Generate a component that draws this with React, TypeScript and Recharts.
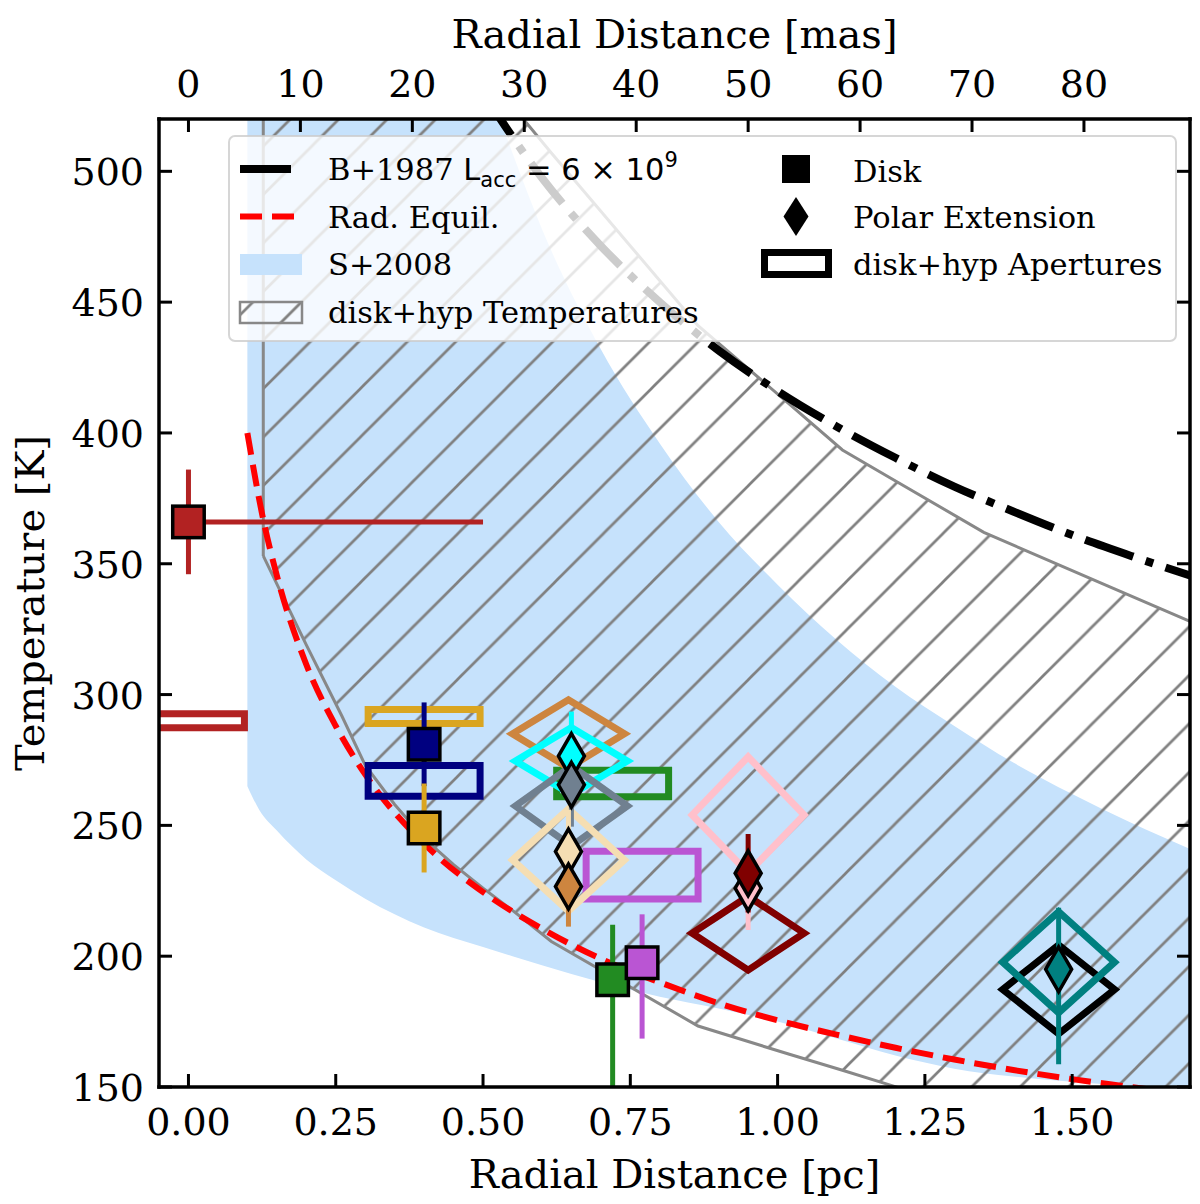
import React from 'react';
import { ComposedChart, XAxis, YAxis, Area, Line, Scatter, ErrorBar, Legend } from 'recharts';

const SERIF = '"DejaVu Serif", serif';
const SANS = '"DejaVu Sans", sans-serif';

// ---------- axes ----------
const PC_DOMAIN = [-0.05, 1.7];
const T_DOMAIN = [150, 520];
const PC_TICKS = [0, 0.25, 0.5, 0.75, 1.0, 1.25, 1.5];
const T_TICKS = [150, 200, 250, 300, 350, 400, 450, 500];
const MAS_TICKS = [0, 10, 20, 30, 40, 50, 60, 70, 80];
const PC_PER_MAS = 0.019;

// ---------- S+2008 band ----------
const S08_X = [0.10, 0.12, 0.15, 0.2, 0.25, 0.3, 0.4, 0.5, 0.55, 0.6, 0.7, 0.8, 0.9, 1.0, 1.1, 1.2, 1.3, 1.4, 1.5, 1.6, 1.7];
const S08_LO = [265, 256, 248, 237, 229, 222, 211, 203.5, 200, 196.5, 190, 184.5, 180, 175, 168.5, 162, 157, 154, 152, 150.3, 148.5];
const S08_HI = [1555, 1380, 1190, 985, 850, 755, 625, 539, 507, 478, 432, 396, 366, 342, 321, 303, 288, 274, 262, 251, 241];

// ---------- disk+hyp temperature range (hatched) ----------
const HATCH_X = [0.127, 0.2, 0.26, 0.3, 0.35, 0.4, 0.45, 0.5, 0.55, 0.616, 0.865, 1.02, 1.11, 1.19, 1.35, 1.56, 1.7];
const HATCH_LO = [353, 319, 292, 273, 258, 245, 235, 226, 217.5, 205.6, 173.3, 162.5, 156.4, 150.8, 139.5, 125, 115];
const HATCH_HI = [700, 680, 660, 645, 625, 600, 560, 538, 525, 507, 441, 411, 393.5, 383, 362, 341.5, 328];

// ---------- radiative equilibrium ----------
const RE_X = [0.1, 0.125, 0.15, 0.2, 0.25, 0.3, 0.4, 0.5, 0.6, 0.7, 0.8, 0.9, 1.0, 1.1, 1.2, 1.3, 1.4, 1.5, 1.6, 1.7];
const RE_T = [400, 369, 345.5, 311.5, 288, 269.5, 243, 224.5, 210.5, 199, 190, 182, 175.5, 170, 165, 160.5, 156.5, 153, 150, 147];

// ---------- B+1987 ----------
const B87_X = [0.5, 0.6, 0.7, 0.8, 0.9, 1.0, 1.1, 1.2, 1.3, 1.4, 1.5, 1.6, 1.7];
const B87_T = [530, 497.5, 471.5, 450, 431.5, 416, 402.5, 390.5, 379.5, 370, 361, 353, 345.5];

// ---------- disk+hyp apertures: rectangles ----------
const RECT_COLOR = ['#b22222', '#daa520', '#000080', '#228b22', '#ba55d3'];
const RECT_X = [0.0, 0.40, 0.40, 0.72, 0.77];
const RECT_T = [290, 291.6, 267, 266, 231];
const RECT_HALF_T = [2.7, 2.7, 5.9, 5.1, 9.1];
const AP_HALF_X = 0.095;

// ---------- disk+hyp apertures: diamonds ----------
const DM_COLOR = ['#cd853f', '#00ffff', '#708090', '#f5deb3', '#ffc0cb', '#800000', '#000000', '#008080'];
const DM_X = [0.645, 0.65, 0.65, 0.645, 0.95, 0.95, 1.477, 1.477];
const DM_T = [285, 274.6, 257.4, 236.8, 254, 208.8, 187.3, 197.7];
const DM_HALF_T = [13, 12.8, 15.3, 19.5, 22.2, 14.1, 17, 19.3];

// ---------- Disk points (squares) ----------
const SQ_COLOR = ['#b22222', '#000080', '#daa520', '#228b22', '#ba55d3'];
const SQ_X = [0.0, 0.40, 0.40, 0.72, 0.77];
const SQ_T = [366, 281, 249, 191, 197.5];
const SQ_ERR_LO = [20, 16, 17, 41, 29];
const SQ_ERR_HI = [20, 16, 17, 21, 18.5];
const SQ_XERR_HI = [0.5, 0, 0, 0, 0];

// ---------- Polar extension points (diamonds) ----------
const PD_COLOR = ['#00ffff', '#708090', '#f5deb3', '#cd853f', '#ffc0cb', '#800000', '#008080'];
const PD_X = [0.65, 0.65, 0.645, 0.645, 0.95, 0.95, 1.477];
const PD_T = [276.5, 265.5, 240, 226.6, 226, 231.7, 195];
const PD_ERR_LO = [17, 16, 16, 15.3, 16, 15, 36.3];
const PD_ERR_HI = [17, 16, 16, 15.3, 16, 15, 23.5];

// ---------- derived tables ----------
const s08Data = S08_X.map((x, i) => ({ x, range: [S08_LO[i], S08_HI[i]] }));
const hatchData = HATCH_X.map((x, i) => ({ x, range: [HATCH_LO[i], HATCH_HI[i]] }));
const hatchEdge = [
  { x: HATCH_X[0], T: HATCH_LO[0] },
  { x: HATCH_X[0], T: HATCH_HI[0] },
];
const reData = RE_X.map((x, i) => ({ x, T: RE_T[i] }));
const b87Data = B87_X.map((x, i) => ({ x, T: B87_T[i] }));
// anchor rows for the angular-scale (mas) axis, placed on the bottom edge
const masRows = MAS_TICKS.map((m) => ({ mas: m, T: T_DOMAIN[0] }));

const rectPath = (cx: number, cT: number, hx: number, hT: number) => [
  { x: cx, T: cT + hT },
  { x: cx + hx, T: cT + hT },
  { x: cx + hx, T: cT - hT },
  { x: cx - hx, T: cT - hT },
  { x: cx - hx, T: cT + hT },
  { x: cx, T: cT + hT },
];
const diamondPath = (cx: number, cT: number, hx: number, hT: number) => [
  { x: cx - hx / 2, T: cT + hT / 2 },
  { x: cx, T: cT + hT },
  { x: cx + hx, T: cT },
  { x: cx, T: cT - hT },
  { x: cx - hx, T: cT },
  { x: cx - hx / 2, T: cT + hT / 2 },
];
const rectShapes = RECT_X.map((x, i) => ({ color: RECT_COLOR[i], data: rectPath(x, RECT_T[i], AP_HALF_X, RECT_HALF_T[i]) }));
const diamondShapes = DM_X.map((x, i) => ({ color: DM_COLOR[i], data: diamondPath(x, DM_T[i], AP_HALF_X, DM_HALF_T[i]) }));

const squarePoints = SQ_X.map((x, i) => ({
  color: SQ_COLOR[i],
  data: [{ x, T: SQ_T[i], ey: [SQ_ERR_LO[i], SQ_ERR_HI[i]], ex: [0, SQ_XERR_HI[i]] }],
  hasX: SQ_XERR_HI[i] > 0,
}));
const polarPoints = PD_X.map((x, i) => ({
  color: PD_COLOR[i],
  data: [{ x, T: PD_T[i], ey: [PD_ERR_LO[i], PD_ERR_HI[i]] }],
}));

// ---------- ticks ----------
const TICK_LEN = 13;
const TICK_FS = 38;

const BottomTick = (props: any) => {
  const { x, y, payload } = props;
  return (
    <g>
      <line x1={x} x2={x} y1={y} y2={y - TICK_LEN} stroke="#000" strokeWidth={3} />
      <text x={x} y={y + 48} textAnchor="middle" fontFamily={SERIF} fontSize={TICK_FS} fill="#000">
        {Number(payload.value).toFixed(2)}
      </text>
    </g>
  );
};
const TopTick = (props: any) => {
  const { x, y, payload } = props;
  return (
    <g>
      <line x1={x} x2={x} y1={y} y2={y + TICK_LEN} stroke="#000" strokeWidth={3} />
      <text x={x} y={y - 22} textAnchor="middle" fontFamily={SERIF} fontSize={TICK_FS} fill="#000">
        {String(payload.value)}
      </text>
    </g>
  );
};
const LeftTick = (props: any) => {
  const { x, y, payload } = props;
  return (
    <g>
      <line x1={x} x2={x + TICK_LEN} y1={y} y2={y} stroke="#000" strokeWidth={3} />
      <text x={x - 15} y={y + 14} textAnchor="end" fontFamily={SERIF} fontSize={TICK_FS} fill="#000">
        {String(payload.value)}
      </text>
    </g>
  );
};
const RightTick = (props: any) => {
  const { x, y } = props;
  return <line x1={x} x2={x - TICK_LEN} y1={y} y2={y} stroke="#000" strokeWidth={3} />;
};

// ---------- axis titles ----------
const BottomTitle = (props: any) => {
  const vb = props.viewBox;
  return (
    <text x={vb.x + vb.width / 2} y={vb.y + 101} textAnchor="middle" fontFamily={SERIF} fontSize={40} fill="#000">
      Radial Distance [pc]
    </text>
  );
};
const TopTitle = (props: any) => {
  const vb = props.viewBox;
  return (
    <text x={vb.x + vb.width / 2} y={vb.y + 48} textAnchor="middle" fontFamily={SERIF} fontSize={40} fill="#000">
      Radial Distance [mas]
    </text>
  );
};
const LeftTitle = (props: any) => {
  const vb = props.viewBox;
  const cx = vb.x + 44;
  const cy = vb.y + vb.height / 2;
  return (
    <text x={cx} y={cy} transform={`rotate(-90 ${cx} ${cy})`} textAnchor="middle" fontFamily={SERIF} fontSize={40} fill="#000">
      Temperature [K]
    </text>
  );
};

// ---------- markers ----------
const squareShape = (color: string) => (props: any) => {
  const { cx, cy } = props;
  const s = 31.5;
  return <rect x={cx - s / 2} y={cy - s / 2} width={s} height={s} fill={color} stroke="#000" strokeWidth={3.5} />;
};
const diamondShape = (color: string) => (props: any) => {
  const { cx, cy } = props;
  const a = 13;
  const b = 22.5;
  return (
    <polygon
      points={`${cx},${cy - b} ${cx + a},${cy} ${cx},${cy + b} ${cx - a},${cy}`}
      fill={color}
      stroke="#000"
      strokeWidth={3.5}
      strokeLinejoin="miter"
    />
  );
};

// ---------- hatch ----------
const HATCH_P = 48.5;
const HATCH_PHASE = 21.5;
const HatchPattern = ({ id, offX, offY }: { id: string; offX: number; offY: number }) => {
  const P = HATCH_P;
  const shift = (((HATCH_PHASE - offX - offY) % P) + P) % P;
  return (
    <pattern id={id} patternUnits="userSpaceOnUse" width={P} height={P} patternTransform={`translate(${shift} 0)`}>
      <path
        d={`M0,${P} L${P},0 M-2,2 L2,-2 M${P - 2},${P + 2} L${P + 2},${P - 2}`}
        stroke="#808080"
        strokeWidth={2.7}
        fill="none"
      />
    </pattern>
  );
};

// ---------- legend ----------
const LEG_X = 228;
const LEG_Y = 135;
const LEG_W = 949;
const LEG_H = 207;
const LEG_FS = 30.5;

const LegendContent = () => (
  <svg width={LEG_W} height={LEG_H} style={{ display: 'block' }}>
    <defs>
      <HatchPattern id="hatchLeg" offX={LEG_X} offY={LEG_Y} />
    </defs>
    <rect x={1} y={1} width={LEG_W - 2} height={LEG_H - 2} rx={6} fill="#ffffff" fillOpacity={0.8} stroke="#cccccc" strokeOpacity={0.8} strokeWidth={2} />
    {/* left column */}
    <line x1={12} x2={74} y1={34} y2={34} stroke="#000" strokeWidth={8} strokeDasharray="51 13 8 13" />
    <text x={100} y={45} fontFamily={SERIF} fontSize={LEG_FS} fill="#000">
      B+1987{' '}
      <tspan fontFamily={SANS}>L</tspan>
      <tspan fontFamily={SANS} fontSize={21} dy={7}>acc</tspan>
      <tspan fontFamily={SANS} dy={-7}> = 6 × 10</tspan>
      <tspan fontFamily={SANS} fontSize={21} dy={-13}>9</tspan>
    </text>
    <line x1={12} x2={74} y1={81.5} y2={81.5} stroke="#ff0000" strokeWidth={6} strokeDasharray="22 10" />
    <text x={100} y={92.5} fontFamily={SERIF} fontSize={LEG_FS} fill="#000">Rad. Equil.</text>
    <rect x={12} y={119} width={62} height={21} fill="#c6e2fc" />
    <text x={100} y={140} fontFamily={SERIF} fontSize={LEG_FS} fill="#000">S+2008</text>
    <rect x={12} y={167} width={62} height={21} fill="url(#hatchLeg)" stroke="#888888" strokeWidth={2.5} />
    <text x={100} y={187.5} fontFamily={SERIF} fontSize={LEG_FS} fill="#000">disk+hyp Temperatures</text>
    {/* right column */}
    <rect x={554} y={20} width={28} height={28} fill="#000" />
    <text x={625} y={46.5} fontFamily={SERIF} fontSize={LEG_FS} fill="#000">Disk</text>
    <polygon points="568,62 580.5,81.5 568,101 555.5,81.5" fill="#000" />
    <text x={625} y={93.3} fontFamily={SERIF} fontSize={LEG_FS} fill="#000">Polar Extension</text>
    <rect x={536.5} y={117.5} width={64} height={22} fill="none" stroke="#000" strokeWidth={7} />
    <text x={625} y={140} fontFamily={SERIF} fontSize={LEG_FS} fill="#000">disk+hyp Apertures</text>
  </svg>
);

const axisLineStyle = { stroke: '#000', strokeWidth: 3.5, strokeLinecap: 'square' as const };

export default function App() {
  return (
    <div style={{ position: 'absolute', left: 0, top: 0, width: 1200, height: 1204, background: '#fff' }}>
      <ComposedChart width={1200} height={1204} margin={{ top: 0, right: 0, bottom: 0, left: 0 }}>
        <defs>
          <HatchPattern id="hatchMain" offX={0} offY={0} />
        </defs>
        <XAxis
          xAxisId="pc"
          dataKey="x"
          type="number"
          orientation="bottom"
          domain={PC_DOMAIN}
          ticks={PC_TICKS}
          interval={0}
          allowDataOverflow
          height={117}
          tickSize={0}
          tickMargin={0}
          tickLine={false}
          axisLine={axisLineStyle}
          tick={<BottomTick />}
          label={{ value: 'Radial Distance [pc]', content: <BottomTitle /> }}
        />
        <XAxis
          xAxisId="mas"
          dataKey="mas"
          type="number"
          orientation="top"
          domain={[PC_DOMAIN[0] / PC_PER_MAS, PC_DOMAIN[1] / PC_PER_MAS]}
          ticks={MAS_TICKS}
          interval={0}
          allowDataOverflow
          height={119}
          tickSize={0}
          tickMargin={0}
          tickLine={false}
          axisLine={axisLineStyle}
          tick={<TopTick />}
          label={{ value: 'Radial Distance [mas]', content: <TopTitle /> }}
        />
        <YAxis
          yAxisId="T"
          type="number"
          orientation="left"
          domain={T_DOMAIN}
          ticks={T_TICKS}
          interval={0}
          allowDataOverflow
          width={159}
          tickSize={0}
          tickMargin={0}
          tickLine={false}
          axisLine={axisLineStyle}
          tick={<LeftTick />}
          label={{ value: 'Temperature [K]', content: <LeftTitle /> }}
        />
        <YAxis
          yAxisId="R"
          type="number"
          orientation="right"
          domain={T_DOMAIN}
          ticks={T_TICKS}
          interval={0}
          allowDataOverflow
          width={10}
          tickSize={0}
          tickMargin={0}
          tickLine={false}
          axisLine={axisLineStyle}
          tick={<RightTick />}
        />

        <Line
          xAxisId="mas"
          yAxisId="T"
          data={masRows}
          dataKey="T"
          type="linear"
          stroke="none"
          dot={false}
          activeDot={false}
          isAnimationActive={false}
          legendType="none"
        />
        <Area
          xAxisId="pc"
          yAxisId="T"
          data={s08Data}
          dataKey="range"
          type="monotone"
          fill="#c6e2fc"
          fillOpacity={1}
          stroke="none"
          isAnimationActive={false}
          legendType="none"
          activeDot={false}
        />
        <Area
          xAxisId="pc"
          yAxisId="T"
          data={hatchData}
          dataKey="range"
          type="linear"
          fill="url(#hatchMain)"
          fillOpacity={1}
          stroke="#888888"
          strokeWidth={3}
          isAnimationActive={false}
          legendType="none"
          activeDot={false}
        />
        <Line
          xAxisId="pc"
          yAxisId="T"
          data={hatchEdge}
          dataKey="T"
          type="linear"
          stroke="#888888"
          strokeWidth={3}
          dot={false}
          activeDot={false}
          isAnimationActive={false}
          legendType="none"
        />
        <Line
          xAxisId="pc"
          yAxisId="T"
          data={reData}
          dataKey="T"
          type="monotone"
          stroke="#ff0000"
          strokeWidth={6}
          strokeDasharray="22 10"
          dot={false}
          activeDot={false}
          isAnimationActive={false}
          legendType="none"
        />
        <Line
          xAxisId="pc"
          yAxisId="T"
          data={b87Data}
          dataKey="T"
          type="monotone"
          stroke="#000000"
          strokeWidth={8}
          strokeDasharray="51 13 8 13"
          dot={false}
          activeDot={false}
          isAnimationActive={false}
          legendType="none"
        />
        {rectShapes.map((s, i) => (
          <Line
            key={`rect-${i}`}
            xAxisId="pc"
            yAxisId="T"
            data={s.data}
            dataKey="T"
            type="linear"
            stroke={s.color}
            strokeWidth={7}
            strokeLinejoin="miter"
            dot={false}
            activeDot={false}
            isAnimationActive={false}
            legendType="none"
          />
        ))}
        {diamondShapes.map((s, i) => (
          <Line
            key={`dm-${i}`}
            xAxisId="pc"
            yAxisId="T"
            data={s.data}
            dataKey="T"
            type="linear"
            stroke={s.color}
            strokeWidth={7}
            strokeLinejoin="miter"
            dot={false}
            activeDot={false}
            isAnimationActive={false}
            legendType="none"
          />
        ))}
        {squarePoints.map((p, i) => (
          <Scatter
            key={`sq-${i}`}
            xAxisId="pc"
            yAxisId="T"
            data={p.data}
            dataKey="T"
            shape={squareShape(p.color)}
            isAnimationActive={false}
            legendType="none"
          >
            <ErrorBar dataKey="ey" direction="y" width={0} stroke={p.color} strokeWidth={5} />
            {p.hasX ? <ErrorBar dataKey="ex" direction="x" width={0} stroke={p.color} strokeWidth={5} /> : null}
          </Scatter>
        ))}
        {polarPoints.map((p, i) => (
          <Scatter
            key={`pd-${i}`}
            xAxisId="pc"
            yAxisId="T"
            data={p.data}
            dataKey="T"
            shape={diamondShape(p.color)}
            isAnimationActive={false}
            legendType="none"
          >
            <ErrorBar dataKey="ey" direction="y" width={0} stroke={p.color} strokeWidth={5} />
          </Scatter>
        ))}
        <Legend
          layout="horizontal"
          verticalAlign="middle"
          align="center"
          content={<LegendContent />}
          wrapperStyle={{ position: 'absolute', left: LEG_X, top: LEG_Y, width: LEG_W, height: LEG_H, margin: 0, padding: 0, lineHeight: 0 }}
        />
      </ComposedChart>
    </div>
  );
}
